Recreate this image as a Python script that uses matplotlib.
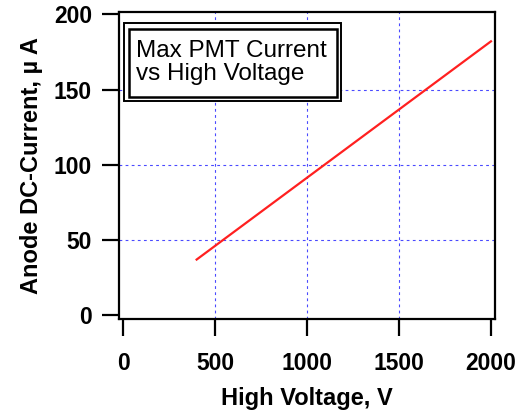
import matplotlib
matplotlib.use("Agg")
import matplotlib.pyplot as plt
from matplotlib.patches import Rectangle

# Data
voltage = [400, 2000]
current = [37, 182]
x_ticks = [0, 500, 1000, 1500, 2000]
y_ticks = [0, 50, 100, 150, 200]
grid_x = [500, 1000, 1500]
grid_y = [50, 100, 150]

plt.rcParams["font.family"] = ["Liberation Sans", "DejaVu Sans"]

fig = plt.figure(figsize=(5.21, 4.13), dpi=100)
ax = fig.add_axes([119 / 521, 1 - 319 / 413, 376 / 521, 307 / 413])

for gx in grid_x:
    ax.axvline(gx, color="#4a4aff", lw=0.8, ls=(0, (2.5, 3)), zorder=1)
for gy in grid_y:
    ax.axhline(gy, color="#4a4aff", lw=0.8, ls=(0, (2.5, 3)), zorder=1)

ax.plot(voltage, current, color="#ff2020", lw=1.6, zorder=3)

ax.set_xlim(-22, 2022)
ax.set_ylim(-2.5, 201.5)
ax.set_xticks(x_ticks)
ax.set_yticks(y_ticks)
ax.set_xticklabels([str(v) for v in x_ticks], fontsize=16.5, fontweight="bold")
ax.set_yticklabels([str(v) for v in y_ticks], fontsize=16.5, fontweight="bold")
ax.tick_params(length=12.5, width=1.6, direction="out")
ax.tick_params(axis="x", pad=11)
ax.tick_params(axis="y", pad=7)
for s in ax.spines.values():
    s.set_linewidth(1.6)

ax.set_xlabel("High Voltage, V", fontsize=17, fontweight="bold", labelpad=9)
ax.set_ylabel("Anode DC-Current, \u00b5 A", fontsize=17, fontweight="bold", labelpad=8)

# legend-like double box
ax.add_patch(Rectangle((0.0133, 0.710), 0.576, 0.254, transform=ax.transAxes,
                       fill=True, facecolor="white", edgecolor="black", lw=1.4, zorder=4))
ax.add_patch(Rectangle((0.0267, 0.723), 0.552, 0.222, transform=ax.transAxes,
                       fill=False, edgecolor="black", lw=1.8, zorder=5))
ax.text(0.045, 0.835, "Max PMT Current\nvs High Voltage", transform=ax.transAxes,
        fontsize=17.5, va="center", ha="left", linespacing=1.05, zorder=6)

fig.savefig("out.png", dpi=100)
